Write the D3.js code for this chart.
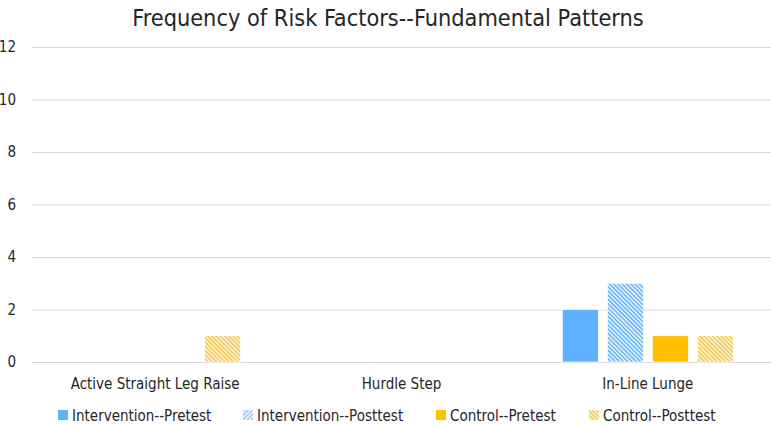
<!DOCTYPE html>
<html>
<head>
<meta charset="utf-8">
<script src="https://cdn.jsdelivr.net/npm/d3@7"></script>
<style>
  body { margin: 0; background: #fff; }
  text { font-family: "Liberation Sans Narrow", "DejaVu Sans Condensed", sans-serif; fill: #262626; }
</style>
</head>
<body>
<svg id="chart" width="771" height="426"></svg>
<script>
const categories = ["Active Straight Leg Raise", "Hurdle Step", "In-Line Lunge"];
const seriesNames = ["Intervention--Pretest", "Intervention--Posttest", "Control--Pretest", "Control--Posttest"];
const interventionPre = [0, 0, 2];
const interventionPost = [0, 0, 3];
const controlPre = [0, 0, 1];
const controlPost = [1, 0, 1];
const yTicks = [0, 2, 4, 6, 8, 10, 12];

const seriesValues = [interventionPre, interventionPost, controlPre, controlPost];

const svg = d3.select("#chart");
const plotLeft = 32, plotRight = 771, plotTop = 47, plotBottom = 362;

// hatch patterns
const defs = svg.append("defs");
function hatch(id, color, angle) {
  const p = defs.append("pattern")
    .attr("id", id)
    .attr("patternUnits", "userSpaceOnUse")
    .attr("width", 3).attr("height", 3)
    .attr("patternTransform", `rotate(${angle})`);
  p.append("rect").attr("width", 3).attr("height", 3).attr("fill", "#fff");
  p.append("rect").attr("width", 3).attr("height", 1.6).attr("fill", color);
}
hatch("hBlue", "#5BAEF8", 45);
hatch("hGold", "#F5C03A", 45);
hatch("hBlueLeg", "#8CC6FA", -45);

const fills = ["#5DB1FF", "url(#hBlue)", "#FFC000", "url(#hGold)"];
const legendFills = ["#5DB1FF", "url(#hBlueLeg)", "#FFC000", "url(#hGold)"];

const x = d3.scaleBand().domain(categories).range([plotLeft, plotRight]);
const xInner = d3.scaleBand().domain(seriesNames).range([0, 171]).paddingInner(0.2);
const innerOffset = (x.bandwidth() - 171) / 2;
const y = d3.scaleLinear().domain([0, 12]).range([plotBottom, plotTop]);

// gridlines
svg.append("g")
  .attr("transform", `translate(${plotLeft},0)`)
  .call(d3.axisLeft(y).tickValues(yTicks).tickSize(-(plotRight - plotLeft)).tickFormat(""))
  .call(g => g.select(".domain").remove())
  .call(g => g.selectAll("line").attr("stroke", "#D9D9D9"));

// y labels
svg.append("g").selectAll("text")
  .data(yTicks)
  .join("text")
  .attr("x", 16)
  .attr("y", d => y(d) + 5)
  .attr("text-anchor", "end")
  .attr("font-size", 15)
  .text(d => d);

// bars
seriesNames.forEach((s, i) => {
  svg.append("g").selectAll("rect")
    .data(seriesValues[i])
    .join("rect")
    .attr("x", (d, j) => x(categories[j]) + innerOffset + xInner(s))
    .attr("y", d => y(d))
    .attr("width", xInner.bandwidth())
    .attr("height", d => plotBottom - y(d))
    .attr("fill", fills[i])
    .attr("stroke", "#fff")
    .attr("stroke-width", 0.7);
});

// category labels
svg.append("g").selectAll("text")
  .data(categories)
  .join("text")
  .attr("x", d => x(d) + x.bandwidth() / 2)
  .attr("y", 389)
  .attr("text-anchor", "middle")
  .attr("font-size", 15)
  .text(d => d);

// title
svg.append("text")
  .attr("x", 388)
  .attr("y", 26)
  .attr("text-anchor", "middle")
  .attr("font-size", 23.3)
  .text("Frequency of Risk Factors--Fundamental Patterns");

// legend
const legendX = [58, 243, 436, 589];
const lg = svg.append("g").selectAll("g")
  .data(seriesNames)
  .join("g")
  .attr("transform", (d, i) => `translate(${legendX[i]},410)`);
lg.append("rect").attr("width", 10).attr("height", 10).attr("fill", (d, i) => legendFills[i]);
lg.append("text").attr("x", 14).attr("y", 10.5).attr("font-size", 15).text(d => d);
</script>
</body>
</html>
